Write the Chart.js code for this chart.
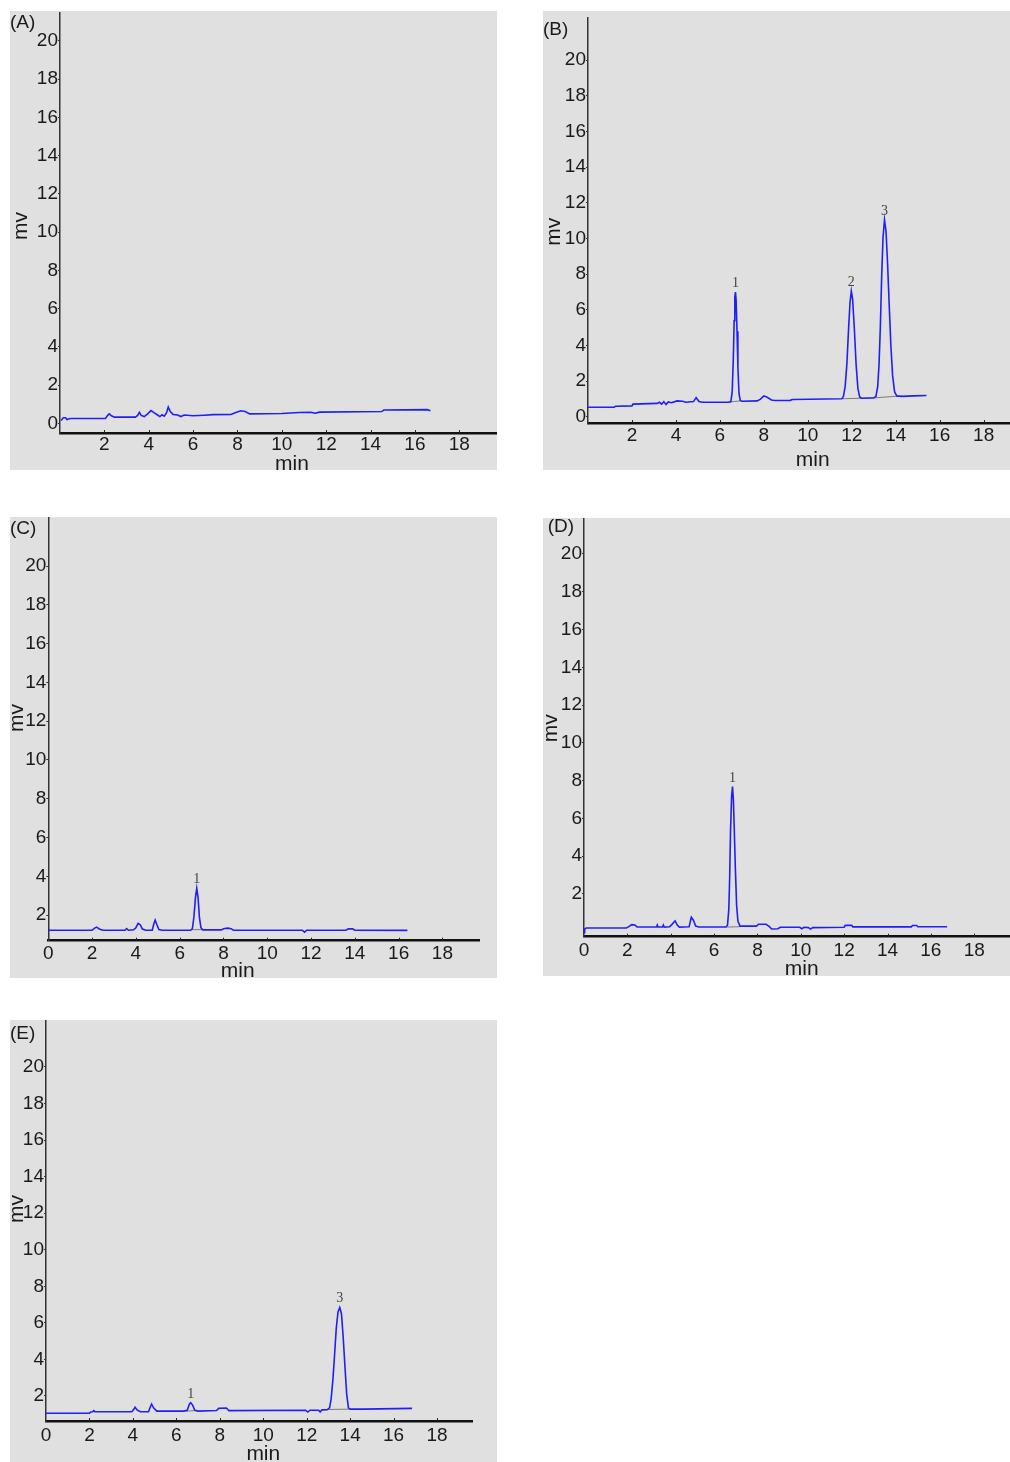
<!DOCTYPE html>
<html>
<head>
<meta charset="utf-8">
<script src="https://cdn.jsdelivr.net/npm/chart.js@4.4.1/dist/chart.umd.min.js"></script>
<style>
  body { margin: 0; background: #fff; width: 1010px; height: 1462px; position: relative; overflow: hidden; }
  .panel { position: absolute; background: #e0e0e0; }
  .panel canvas { display: block; }
</style>
</head>
<body>
<div class="panel" id="boxA"><canvas id="chartA"></canvas></div>
<div class="panel" id="boxB"><canvas id="chartB"></canvas></div>
<div class="panel" id="boxC"><canvas id="chartC"></canvas></div>
<div class="panel" id="boxD"><canvas id="chartD"></canvas></div>
<div class="panel" id="boxE"><canvas id="chartE"></canvas></div>
<script>
// Kromatogram HPLC 5 panel (A-E). Waktu (min) dan sinyal (mv).

// tick labels
const xTicksFrom2 = [2, 4, 6, 8, 10, 12, 14, 16, 18];
const xTicksFrom0 = [0, 2, 4, 6, 8, 10, 12, 14, 16, 18];
const yTicksFrom0 = [0, 2, 4, 6, 8, 10, 12, 14, 16, 18, 20];
const yTicksFrom2 = [2, 4, 6, 8, 10, 12, 14, 16, 18, 20];

// (A) blank
const timeA = [0.05, 0.15, 0.25, 0.32, 0.45, 2.05, 2.15, 2.22, 2.32, 2.45, 3.4, 3.5, 3.58, 3.66, 3.8, 3.95, 4.1, 4.25,
  4.4, 4.5, 4.6, 4.7, 4.8, 4.88, 4.97, 5.1, 5.3, 5.45, 5.6, 6.0, 6.5, 6.9, 7.7, 7.9, 8.15, 8.35, 8.55, 10.0, 10.8,
  11.3, 11.5, 11.7, 14.5, 14.6, 16.55, 16.7];
const mvA = [0.15, 0.3, 0.3, 0.2, 0.26, 0.26, 0.42, 0.5, 0.4, 0.33, 0.33, 0.42, 0.58, 0.42, 0.36, 0.5, 0.67, 0.55,
  0.44, 0.36, 0.45, 0.38, 0.55, 0.86, 0.62, 0.47, 0.44, 0.36, 0.44, 0.4, 0.43, 0.46, 0.47, 0.56, 0.66, 0.62, 0.5, 0.52, 0.57,
  0.58, 0.53, 0.59, 0.62, 0.7, 0.72, 0.66];

// (B) standar campuran
const timeB = [0.0, 1.2, 1.25, 2.0, 2.05, 3.15, 3.25, 3.35, 3.45, 3.55, 3.65, 3.8, 4.05, 4.3, 4.45, 4.8, 4.92, 5.05, 5.2,
  6.4, 6.5, 6.56, 6.61, 6.65, 6.68, 6.71, 6.74, 6.78, 6.82, 6.87, 6.93, 7.0, 7.7, 7.85, 8.0, 8.15, 8.35, 8.5, 9.2, 9.3,
  11.55, 11.62, 11.7, 11.78, 11.85, 11.92, 11.98, 12.04, 12.12, 12.2, 12.28, 12.36, 12.45, 13.0, 13.1, 13.18, 13.24,
  13.3, 13.36, 13.42, 13.49, 13.56, 13.63, 13.7, 13.78, 13.86, 13.95, 14.05, 14.3, 14.8, 15.4];
const mvB = [0.54, 0.55, 0.6, 0.62, 0.72, 0.76, 0.82, 0.72, 0.85, 0.7, 0.84, 0.8, 0.9, 0.88, 0.82, 0.86, 1.08, 0.86, 0.82,
  0.82, 0.86, 1.4, 3.2, 5.4, 6.7, 7.0, 6.5, 4.8, 2.8, 1.3, 0.92, 0.88, 0.9, 1.0, 1.18, 1.1, 0.95, 0.92, 0.93, 0.98,
  1.02, 1.15, 1.7, 3.0, 4.8, 6.4, 7.05, 6.6, 4.9, 2.9, 1.6, 1.12, 1.05, 1.07, 1.15, 1.7, 2.9,
  5.0, 7.8, 10.0, 11.05, 10.4, 8.6, 6.4, 4.0, 2.3, 1.4, 1.18, 1.15, 1.18, 1.2];

// (C)
const timeC = [0, 2.0, 2.1, 2.2, 2.35, 2.5, 3.5, 3.58, 3.66, 3.9, 4.0, 4.1, 4.2, 4.3, 4.45, 4.75, 4.82, 4.88, 4.96, 5.05,
  5.2, 6.5, 6.58, 6.65, 6.72, 6.78, 6.84, 6.9, 6.97, 7.05, 7.9, 8.0, 8.2, 8.35, 8.45, 11.6, 11.7, 11.8, 13.6, 13.7,
  13.9, 14.0, 16.4];
const mvC = [1.22, 1.22, 1.32, 1.38, 1.27, 1.22, 1.22, 1.3, 1.22, 1.24, 1.35, 1.57, 1.5, 1.28, 1.22, 1.22, 1.55, 1.74, 1.5, 1.25,
  1.22, 1.22, 1.3, 1.9, 2.9, 3.38, 2.9, 1.9, 1.35, 1.24, 1.24, 1.3, 1.33, 1.3, 1.22, 1.22, 1.12, 1.22, 1.22, 1.29,
  1.29, 1.22, 1.21];

// (D)
const timeD = [0.0, 0.03, 0.1, 1.95, 2.05, 2.2, 2.35, 2.45, 3.35, 3.38, 3.42, 3.62, 3.66, 3.7, 3.95, 4.05, 4.2, 4.3, 4.4,
  4.85, 4.95, 5.05, 5.15, 5.3, 6.55, 6.62, 6.68, 6.72, 6.76, 6.81, 6.85, 6.89, 6.93, 6.98, 7.04, 7.1, 7.2, 7.95, 8.05,
  8.4, 8.55, 8.65, 8.95, 9.05, 9.95, 10.05, 10.15, 10.35, 10.45, 10.55, 12.0, 12.05, 12.35, 12.4, 15.1, 15.15, 15.35,
  15.4, 16.75];
const mvD = [-0.05, 0.15, 0.2, 0.2, 0.26, 0.38, 0.36, 0.25, 0.25, 0.36, 0.25, 0.25, 0.36, 0.25, 0.27, 0.38, 0.58, 0.36, 0.25,
  0.27, 0.77, 0.6, 0.3, 0.25, 0.25, 0.35, 1.2, 2.9, 5.4, 7.2, 7.68, 7.0, 5.5, 3.4, 1.4, 0.55, 0.3, 0.3, 0.4,
  0.4, 0.28, 0.15, 0.16, 0.24, 0.24, 0.16, 0.24, 0.22, 0.14, 0.22, 0.24, 0.34, 0.34, 0.26, 0.26, 0.33, 0.33,
  0.27, 0.27];

// (E)
const timeE = [0.0, 2.0, 2.05, 2.15, 2.2, 2.25, 3.95, 4.05, 4.1, 4.2, 4.35, 4.72, 4.8, 4.86, 4.95, 5.1, 6.35, 6.5, 6.6,
  6.66, 6.75, 6.85, 7.0, 7.85, 7.95, 8.3, 8.42, 11.95, 12.05, 12.15, 12.55, 12.62, 12.7, 12.95, 13.05, 13.12, 13.2,
  13.28, 13.36, 13.44, 13.52, 13.6, 13.68, 13.76, 13.84, 13.92, 14.0, 14.6, 16.85];
const mvE = [1.05, 1.05, 1.12, 1.14, 1.2, 1.14, 1.14, 1.28, 1.38, 1.22, 1.14, 1.14, 1.4, 1.56, 1.35, 1.17, 1.17, 1.22, 1.55,
  1.63, 1.5, 1.22, 1.17, 1.2, 1.32, 1.34, 1.2, 1.22, 1.12, 1.22, 1.22, 1.12, 1.24, 1.25, 1.35, 1.8, 2.8,
  4.2, 5.7, 6.6, 6.84, 6.5, 5.2, 3.6, 2.1, 1.35, 1.28, 1.28, 1.32];

// garis baseline integrasi (abu-abu), tiap dua titik = satu segmen
const baseTimeB = [6.45, 6.95, 11.6, 12.45, 13.05, 14.15];
const baseMvB   = [0.84, 0.9, 1.02, 1.05, 1.07, 1.17];
const baseTimeC = [6.55, 7.05];
const baseMvC   = [1.25, 1.25];
const baseTimeD = [6.6, 7.2];
const baseMvD   = [0.25, 0.27];
const baseTimeE = [6.45, 6.9, 13.0, 14.0];
const baseMvE   = [1.17, 1.2, 1.26, 1.28];

// nomor puncak
const peakLabelB = ['1', '2', '3'];
const peakTimeB  = [6.71, 11.98, 13.49];
const peakMvB    = [7.0, 7.05, 11.05];
const peakLabelC = ['1'];
const peakTimeC  = [6.78];
const peakMvC    = [3.38];
const peakLabelD = ['1'];
const peakTimeD  = [6.85];
const peakMvD    = [7.68];
const peakLabelE = ['1', '3'];
const peakTimeE  = [6.66, 13.52];
const peakMvE    = [1.63, 6.84];

const FONT = '"Liberation Sans", Arial, sans-serif';
const TRACE_COLOR = 'rgb(32, 32, 245)';

// layout per panel (koordinat halaman): box = kotak abu-abu, area = kotak plot,
// xGap = jarak label tick x dari sumbu (padding Chart.js)
const PANELS = [
  { tag: '(A)', box: [10, 11, 487, 459], area: [60, 13, 497, 433], xr: [0, 19.7], yr: [-0.5, 21.45], xGap: -8,
    xTicks: xTicksFrom2, yTicks: yTicksFrom0, time: timeA, mv: mvA, baseT: [], baseV: [],
    peakL: [], peakT: [], peakV: [], tagPos: [10, 23], mvPos: [21.7, 226], minPos: [292, 470] },
  { tag: '(B)', box: [543, 11, 467, 459], area: [588, 18, 1010, 423], xr: [0, 19.2], yr: [-0.34, 22.36], xGap: -7,
    xTicks: xTicksFrom2, yTicks: yTicksFrom0, time: timeB, mv: mvB, baseT: baseTimeB, baseV: baseMvB,
    peakL: peakLabelB, peakT: peakTimeB, peakV: peakMvB, tagPos: [543, 30], mvPos: [554, 231.7], minPos: [812.7, 465.7] },
  { tag: '(C)', box: [10, 517, 487, 461], area: [48.3, 518, 479, 940.7], xr: [0, 19.67], yr: [0.68, 22.48], xGap: -6,
    xTicks: xTicksFrom0, yTicks: yTicksFrom2, time: timeC, mv: mvC, baseT: baseTimeC, baseV: baseMvC,
    peakL: peakLabelC, peakT: peakTimeC, peakV: peakMvC, tagPos: [10, 528.3], mvPos: [17.5, 718], minPos: [237.7, 977] },
  { tag: '(D)', box: [543, 518, 467, 458], area: [584, 518, 1010, 936.7], xr: [0, 19.65], yr: [-0.26, 21.9], xGap: -5,
    xTicks: xTicksFrom0, yTicks: yTicksFrom2, time: timeD, mv: mvD, baseT: baseTimeD, baseV: baseMvD,
    peakL: peakLabelD, peakT: peakTimeD, peakV: peakMvD, tagPos: [547.7, 526.7], mvPos: [550.8, 728.3], minPos: [801.7, 975] },
  { tag: '(E)', box: [10, 1020, 487, 442], area: [46, 1020, 472.7, 1421], xr: [0, 19.64], yr: [0.63, 22.57], xGap: -5,
    xTicks: xTicksFrom0, yTicks: yTicksFrom2, time: timeE, mv: mvE, baseT: baseTimeE, baseV: baseMvE,
    peakL: peakLabelE, peakT: peakTimeE, peakV: peakMvE, tagPos: [10, 1033.3], mvPos: [17.5, 1209], minPos: [263.3, 1460] }
];

function toPoints(ts, vs) {
  return ts.map((t, i) => ({ x: t, y: vs[i] }));
}

// tick x ke dalam plot, nomor puncak, label panel & judul sumbu
const panelDecor = {
  id: 'panelDecor',
  afterDraw(chart, args, opts) {
    const p = opts.panel;
    const { ctx, scales: { x, y } } = chart;
    const ox = p.box[0], oy = p.box[1];
    ctx.save();

    ctx.strokeStyle = '#222';
    ctx.lineWidth = 1;
    p.xTicks.forEach(v => {
      if (v === 0) return;
      const px = Math.round(x.getPixelForValue(v)) + 0.5;
      ctx.beginPath();
      ctx.moveTo(px, y.bottom);
      ctx.lineTo(px, y.bottom - 3);
      ctx.stroke();
    });

    ctx.fillStyle = '#444';
    ctx.font = '14px "Liberation Serif", "DejaVu Serif", serif';
    ctx.textAlign = 'center';
    ctx.textBaseline = 'alphabetic';
    p.peakL.forEach((lbl, i) => {
      ctx.fillText(lbl, x.getPixelForValue(p.peakT[i]), y.getPixelForValue(p.peakV[i]) - 5);
    });

    ctx.fillStyle = '#1a1a1a';
    ctx.font = '19px ' + FONT;
    ctx.textAlign = 'left';
    ctx.textBaseline = 'middle';
    ctx.fillText(p.tag, p.tagPos[0] - ox, p.tagPos[1] - oy);

    ctx.font = '21px ' + FONT;
    ctx.textAlign = 'center';
    ctx.textBaseline = 'alphabetic';
    ctx.fillText('min', p.minPos[0] - ox, p.minPos[1] - oy);

    ctx.translate(p.mvPos[0] - ox, p.mvPos[1] - oy);
    ctx.rotate(-Math.PI / 2);
    ctx.textBaseline = 'middle';
    ctx.fillText('mv', 0, 0);
    ctx.restore();
  }
};

PANELS.forEach((p, idx) => {
  const [bx, by, bw, bh] = p.box;
  const [al, at, ar, ab] = p.area;
  const box = document.getElementById('box' + 'ABCDE'[idx]);
  box.style.left = bx + 'px';
  box.style.top = by + 'px';
  box.style.width = bw + 'px';
  box.style.height = bh + 'px';
  const canvas = document.getElementById('chart' + 'ABCDE'[idx]);
  canvas.width = bw;
  canvas.height = bh;

  const datasets = [{
    data: toPoints(p.time, p.mv), showLine: true, borderColor: TRACE_COLOR, borderWidth: 1.6,
    pointRadius: 0, tension: 0
  }];
  for (let i = 0; i + 1 < p.baseT.length; i += 2) {
    datasets.push({
      data: toPoints(p.baseT.slice(i, i + 2), p.baseV.slice(i, i + 2)), showLine: true,
      borderColor: '#7a7a7a', borderWidth: 1, pointRadius: 0
    });
  }

  new Chart(canvas, {
    type: 'scatter',
    data: { datasets },
    options: {
      responsive: false,
      animation: false,
      devicePixelRatio: 1,
      events: [],
      layout: { padding: { left: 0, top: at - by, right: bx + bw - ar, bottom: 0 } },
      plugins: { legend: { display: false }, tooltip: { enabled: false }, panelDecor: { panel: p } },
      scales: {
        x: {
          type: 'linear', min: p.xr[0], max: p.xr[1],
          grid: { display: false },
          border: { display: true, color: '#111', width: 2.5 },
          ticks: { autoSkip: false, maxRotation: 0, padding: p.xGap, color: '#1a1a1a', font: { family: FONT, size: 19 } },
          afterBuildTicks: s => { s.ticks = p.xTicks.map(v => ({ value: v })); },
          afterFit: s => { s.height = by + bh - ab; s.paddingLeft = 0; s.paddingRight = 0; }
        },
        y: {
          type: 'linear', min: p.yr[0], max: p.yr[1],
          grid: { display: true, drawOnChartArea: false, drawTicks: true, tickLength: 2, tickColor: '#333' },
          border: { display: true, color: '#333', width: 1.5 },
          ticks: { autoSkip: false, padding: 0, color: '#1a1a1a', font: { family: FONT, size: 19 } },
          afterBuildTicks: s => { s.ticks = p.yTicks.map(v => ({ value: v })); },
          afterFit: s => { s.width = al - bx; s.paddingTop = 0; s.paddingBottom = 0; }
        }
      }
    },
    plugins: [panelDecor]
  });
});
</script>
</body>
</html>
